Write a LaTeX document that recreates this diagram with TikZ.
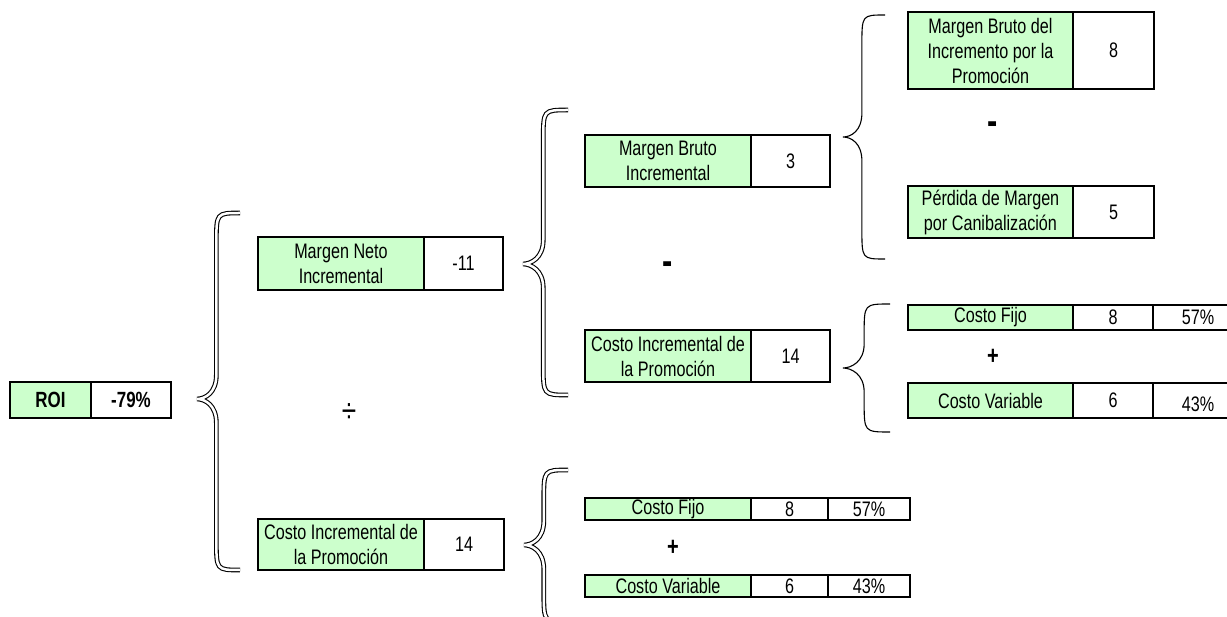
\documentclass[tikz,border=0pt]{standalone}
\usepackage{fontspec}
\setmainfont{Liberation Sans}[FakeStretch=0.77]
\usetikzlibrary{positioning}
\definecolor{cellgreen}{RGB}{204,255,204}
\tikzset{
  cell/.style={draw, line width=1.9pt, outer sep=0pt, inner sep=0pt,
    align=center, anchor=north west, font=\fontsize{21}{25}\selectfont},
  name cell/.style={cell, fill=cellgreen, minimum width=#1},
  num cell/.style={cell, fill=white, minimum width=#1},
  op/.style={inner sep=0pt, font=\fontsize{26}{28}\selectfont\bfseries},
  minus/.style={inner sep=0pt, font=\fontsize{40}{42}\selectfont\bfseries},
  twin brace/.style={double, double distance=2.5pt, line width=1.1pt},
  thin brace/.style={line width=1.1pt}
}
% style, tip x, end x, top y, tip y, bottom y
\newcommand{\curly}[6]{%
  \pgfmathsetmacro{\bracex}{#2+0.45*(#3-#2)}%
  \draw[#1] (#3,#4) .. controls (\bracex,#4) and (\bracex,#4) .. (\bracex,#4+30)
    -- (\bracex,#5-24) .. controls (\bracex,#5-6) and (#2+8,#5) .. (#2,#5)
    .. controls (#2+8,#5) and (\bracex,#5+6) .. (\bracex,#5+24)
    -- (\bracex,#6-30) .. controls (\bracex,#6) and (\bracex,#6) .. (#3,#6);}

\begin{document}
\begin{tikzpicture}[x=1pt, y=-1pt]
  \useasboundingbox (0,0) rectangle (1227,617);

  \node[name cell=81, minimum height=36, font=\fontsize{22}{25}\selectfont\bfseries] (roi) at (10,382) {ROI};
  \node[num cell=80, minimum height=36, font=\fontsize{22}{25}\selectfont\bfseries] (roiv) at (roi.north east) {-79\%};

  \curly{twin brace}{197}{240}{213}{399}{570}
  \node[name cell=166, minimum height=53] (mni) at (258,237) {Margen Neto\\Incremental};
  \node[num cell=79, minimum height=53] (mniv) at (mni.north east) {-11};
  \node[op, font=\fontsize{34}{36}\selectfont] (div) at (349,413) {÷};
  \node[name cell=166, minimum height=51] (cip) at (258,519) {Costo Incremental de\\la Promoción};
  \node[num cell=80, minimum height=51] (cipv) at (cip.north east) {14};

  \curly{twin brace}{523}{568}{110}{264}{395}
  \node[name cell=166, minimum height=52] (mbi) at (585,135) {Margen Bruto\\Incremental};
  \node[num cell=79, minimum height=52] (mbiv) at (mbi.north east) {3};
  \node[minus] (minus1) at (668,268) {-};
  \node[name cell=166, minimum height=52] (cim) at (585,330) {Costo Incremental de\\la Promoción};
  \node[num cell=79, minimum height=52] (cimv) at (cim.north east) {14};

  \curly{twin brace}{524}{568}{470}{545}{622}
  \node[name cell=166, minimum height=22] (fijo) at (585,498) {Costo Fijo};
  \node[num cell=77, minimum height=22] (fijov) at (fijo.north east) {8};
  \node[num cell=82, minimum height=22] (fijop) at (fijov.north east) {57\%};
  \node[op] (plus1) at (673,548) {+};
  \node[name cell=166, minimum height=22] (var) at (585,575) {Costo Variable};
  \node[num cell=77, minimum height=22] (varv) at (var.north east) {6};
  \node[num cell=82, minimum height=22] (varp) at (varv.north east) {43\%};

  \curly{thin brace}{843}{885}{15}{137}{259}
  \node[name cell=165, minimum height=77] (mbp) at (908,12) {Margen Bruto del\\Incremento por la\\Promoción};
  \node[num cell=81, minimum height=77] (mbpv) at (mbp.north east) {8};
  \node[minus] (minus2) at (993,128) {-};
  \node[name cell=165, minimum height=52] (pmc) at (908,186) {Pérdida de Margen\\por Canibalización};
  \node[num cell=81, minimum height=52] (pmcv) at (pmc.north east) {5};

  \curly{thin brace}{843}{890}{304}{368}{432}
  \node[name cell=165, minimum height=25] (tfijo) at (908,305) {Costo Fijo};
  \node[num cell=80, minimum height=25] (tfijov) at (tfijo.north east) {8};
  \node[num cell=90, minimum height=25] (tfijop) at (tfijov.north east) {57\%};
  \node[op] (plus2) at (993,357) {+};
  \node[name cell=165, minimum height=35] (tvar) at (908,383) {Costo Variable};
  \node[num cell=80, minimum height=35] (tvarv) at (tvar.north east) {6};
  \node[num cell=90, minimum height=35, text height=23pt, text depth=0pt] (tvarp) at (tvarv.north east) {43\%};
\end{tikzpicture}
\end{document}
